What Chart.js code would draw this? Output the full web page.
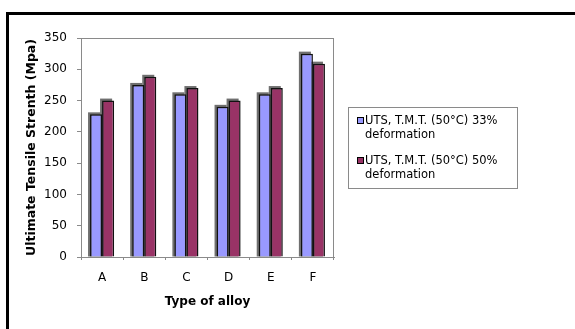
<!DOCTYPE html>
<html>
<head>
<meta charset="utf-8">
<script src="https://cdn.jsdelivr.net/npm/chart.js@4.4.1/dist/chart.umd.min.js"></script>
<style>
  body { margin: 0; background: #fff; }
  #wrap { position: relative; width: 575px; height: 329px; overflow: hidden; }
  #frame { position: absolute; left: 6px; top: 12px; right: 0; bottom: 0; border-left: 3px solid #000; border-top: 3px solid #000; }
  #Bars { position: absolute; left: 0; top: 0; }
</style>
</head>
<body>
<div id="wrap">
  <div id="frame"></div>
  <canvas id="Bars" width="575" height="329"></canvas>
</div>
<script>
// alloy types and strength values (MPa)
var alloys = ["A", "B", "C", "D", "E", "F"];
var uts33 = [228, 275, 260, 240, 260, 325];
var uts50 = [250, 288, 270, 250, 270, 309];
var seriesLines = [
    ["UTS, T.M.T. (50°C) 33%", "deformation"],
    ["UTS, T.M.T. (50°C) 50%", "deformation"]
];
var yTicks = [0, 50, 100, 150, 200, 250, 300, 350];

var gray = "#8a8a8a";
var dejavu = "'DejaVu Sans', sans-serif";

// gray offset shadow behind each bar + plot area frame
var barShadow = {
    id: "barShadow",
    beforeDatasetsDraw: function(chart) {
        var ctx = chart.ctx;
        ctx.save();
        ctx.fillStyle = "#6f6f6f";
        chart.data.datasets.forEach(function(ds, i) {
            chart.getDatasetMeta(i).data.forEach(function(bar) {
                var w = bar.width;
                ctx.fillRect(bar.x - w / 2 - 2, bar.y - 2, w, bar.base - bar.y + 2);
            });
        });
        ctx.restore();
    },
    afterDraw: function(chart) {
        var ctx = chart.ctx, a = chart.chartArea;
        ctx.save();
        ctx.strokeStyle = gray;
        ctx.lineWidth = 1;
        ctx.strokeRect(Math.round(a.left) + 0.5, Math.round(a.top) + 0.5,
            Math.round(a.right - a.left) - 1, Math.round(a.bottom - a.top));
        ctx.restore();
    }
};

// boxed legend on the right, two-line entries
var boxLegend = {
    id: "boxLegend",
    afterDraw: function(chart) {
        var ctx = chart.ctx;
        var bx = 348, by = 107, bw = 169, bh = 81;
        ctx.save();
        ctx.fillStyle = "#fff";
        ctx.fillRect(bx, by, bw, bh);
        ctx.strokeStyle = gray;
        ctx.lineWidth = 1;
        ctx.strokeRect(bx + 0.5, by + 0.5, bw, bh);
        ctx.font = "11.5px " + dejavu;
        ctx.textBaseline = "middle";
        ctx.textAlign = "left";
        chart.data.datasets.forEach(function(ds, i) {
            var y0 = 121 + i * 40;
            ctx.fillStyle = ds.backgroundColor;
            ctx.fillRect(357, y0 - 4, 7, 7);
            ctx.strokeStyle = "#000";
            ctx.strokeRect(357.5, y0 - 3.5, 6, 6);
            ctx.fillStyle = "#000";
            seriesLines[i].forEach(function(line, j) {
                ctx.fillText(line, 365, y0 + j * 14.5);
            });
        });
        ctx.restore();
    }
};

var ctx = document.getElementById("Bars").getContext("2d");

var barChart = new Chart(ctx, {
    type: "bar",
    data: {
        labels: alloys,
        datasets: [
            {
            label: seriesLines[0].join(" "),
            data: uts33,
            backgroundColor: "#9999ff",
            borderColor: "#111",
            borderWidth: {top: 1.5, left: 1.5, right: 1.5, bottom: 0},
            borderSkipped: false
            },
            {
            label: seriesLines[1].join(" "),
            data: uts50,
            backgroundColor: "#993366",
            borderColor: "#111",
            borderWidth: {top: 1.5, left: 1.5, right: 1.5, bottom: 0},
            borderSkipped: false
            }
        ]
    },
    options: {
        responsive: false,
        animation: false,
        devicePixelRatio: 1,
        layout: { padding: { left: 0, top: 38, right: 241, bottom: 0 } },
        categoryPercentage: 0.571,
        barPercentage: 1.0,
        plugins: {
            legend: { display: false },
            tooltip: { enabled: false }
        },
        scales: {
            x: {
                grid: { offset: true, drawOnChartArea: false, tickLength: 3, color: gray },
                border: { color: gray },
                ticks: { color: "#000", font: { family: dejavu, size: 12 }, padding: 11 },
                title: {
                    display: true,
                    text: "Type of alloy",
                    color: "#000",
                    font: { family: dejavu, size: 12, weight: "bold" },
                    padding: { top: 0, bottom: 20 }
                },
                afterFit: function(s) { s.height = 72; }
            },
            y: {
                min: 0,
                max: 350,
                afterBuildTicks: function(s) {
                    s.ticks = yTicks.map(function(v) { return { value: v }; });
                },
                grid: { drawOnChartArea: false, tickLength: 4, color: gray },
                border: { color: gray },
                ticks: { color: "#000", font: { family: dejavu, size: 12 }, padding: 10 },
                title: {
                    display: true,
                    text: "Ultimate Tensile Strenth (Mpa)",
                    color: "#000",
                    font: { family: dejavu, size: 12.5, weight: "bold" },
                    padding: { top: 24, bottom: 0 }
                },
                afterFit: function(s) { s.width = 81; }
            }
        }
    },
    plugins: [barShadow, boxLegend]
});
</script>
</body>
</html>
